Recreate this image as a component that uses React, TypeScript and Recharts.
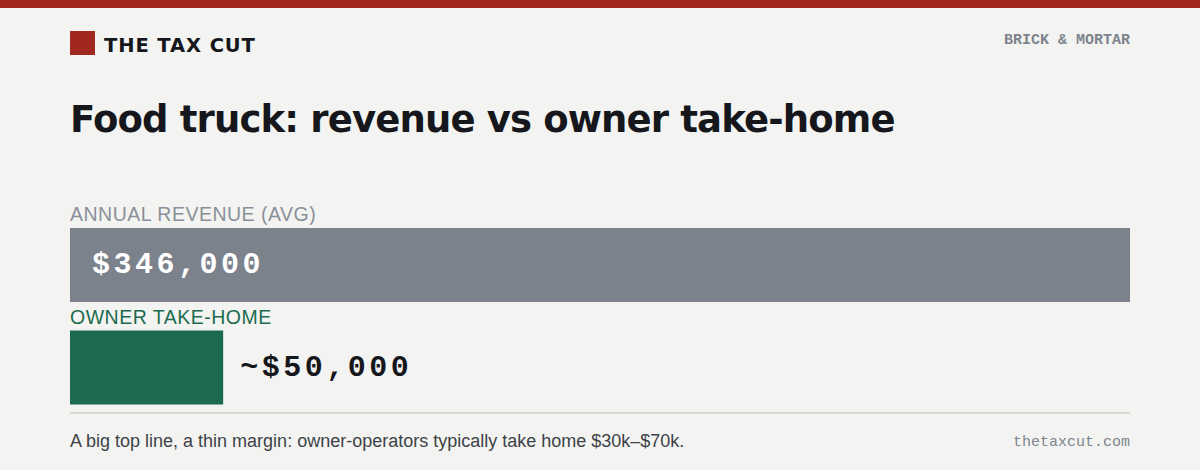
import React from 'react';
import { BarChart, Bar, XAxis, YAxis, Cell, LabelList } from 'recharts';

const categories = ['ANNUAL REVENUE (AVG)', 'OWNER TAKE-HOME'];
const amounts = [346000, 50000];
const valueLabels = ['$346,000', '~$50,000'];

const BAR_COLORS = ['#7b828c', '#1c6b4f'];
const NAME_COLORS = ['#8a9099', '#1c6b4f'];

const SANS = '"Liberation Sans", Arial, sans-serif';
const HEAVY = '"DejaVu Sans", "Liberation Sans", sans-serif';
const MONO = '"Liberation Mono", "Courier New", monospace';

const data = categories.map((name, i) => ({ name, value: amounts[i], label: valueLabels[i] }));

const RowLabel = (props: any) => {
    const { x, y, width, height, index } = props;
    const row = data[index];
    const cy = y + height / 2;
    const inside = index === 0;
    return (
        <g>
            <text x={x} y={y - 7} fill={NAME_COLORS[index]} fontFamily={SANS} fontSize={19.5} letterSpacing={0.5}>
                {row.name}
            </text>
            <text
                x={inside ? x + 22 : x + width + 17}
                y={cy}
                dominantBaseline="central"
                fill={inside ? '#ffffff' : '#15171c'}
                fontFamily={MONO}
                fontWeight="bold"
                fontSize={30}
                letterSpacing={3.5}
            >
                {row.label}
            </text>
        </g>
    );
};

export default function App() {
    return (
        <div
            style={{
                position: 'fixed',
                left: 0,
                top: 0,
                width: 1200,
                height: 470,
                background: '#f3f4f1',
                overflow: 'hidden',
                fontFamily: SANS,
            }}
        >
            <div style={{ position: 'absolute', left: 0, top: 0, width: 1200, height: 8, background: '#a0281e' }} />
            <div style={{ position: 'absolute', left: 70, top: 31, width: 25, height: 24, background: '#a0281e' }} />
            <div
                style={{
                    position: 'absolute',
                    left: 104,
                    top: 34,
                    fontFamily: HEAVY,
                    fontSize: 19.5,
                    fontWeight: 'bold',
                    color: '#15171c',
                    letterSpacing: 0.9,
                    lineHeight: '24px',
                }}
            >
                THE TAX CUT
            </div>
            <div
                style={{
                    position: 'absolute',
                    right: 70,
                    top: 31,
                    fontFamily: MONO,
                    fontSize: 15,
                    fontWeight: 'bold',
                    color: '#7d848e',
                    lineHeight: '20px',
                }}
            >
                BRICK &amp; MORTAR
            </div>
            <div
                style={{
                    position: 'absolute',
                    left: 70,
                    top: 98,
                    fontFamily: HEAVY,
                    fontSize: 37,
                    fontWeight: 'bold',
                    color: '#15171c',
                    letterSpacing: -0.85,
                    lineHeight: '44px',
                }}
            >
                Food truck: revenue vs owner take-home
            </div>

            <div style={{ position: 'absolute', left: 70, top: 184 }}>
                <BarChart
                    width={1060}
                    height={235}
                    data={data}
                    layout="vertical"
                    margin={{ top: 30, right: 0, bottom: 0, left: 0 }}
                >
                    <XAxis type="number" domain={[0, amounts[0]]} hide />
                    <YAxis type="category" dataKey="name" hide />
                    <Bar dataKey="value" barSize={74} isAnimationActive={false}>
                        {data.map((entry, i) => (
                            <Cell key={`cell-${i}`} fill={BAR_COLORS[i]} />
                        ))}
                        <LabelList dataKey="label" content={<RowLabel />} />
                    </Bar>
                </BarChart>
            </div>

            <div style={{ position: 'absolute', left: 70, top: 412, width: 1060, height: 2, background: '#d7d9d4' }} />
            <div
                style={{
                    position: 'absolute',
                    left: 70,
                    top: 430,
                    fontSize: 18,
                    color: '#3d4248',
                    lineHeight: '22px',
                }}
            >
                A big top line, a thin margin: owner-operators typically take home $30k–$70k.
            </div>
            <div
                style={{
                    position: 'absolute',
                    right: 70,
                    top: 433,
                    fontFamily: MONO,
                    fontSize: 15,
                    color: '#7d848e',
                    lineHeight: '20px',
                }}
            >
                thetaxcut.com
            </div>
        </div>
    );
}
